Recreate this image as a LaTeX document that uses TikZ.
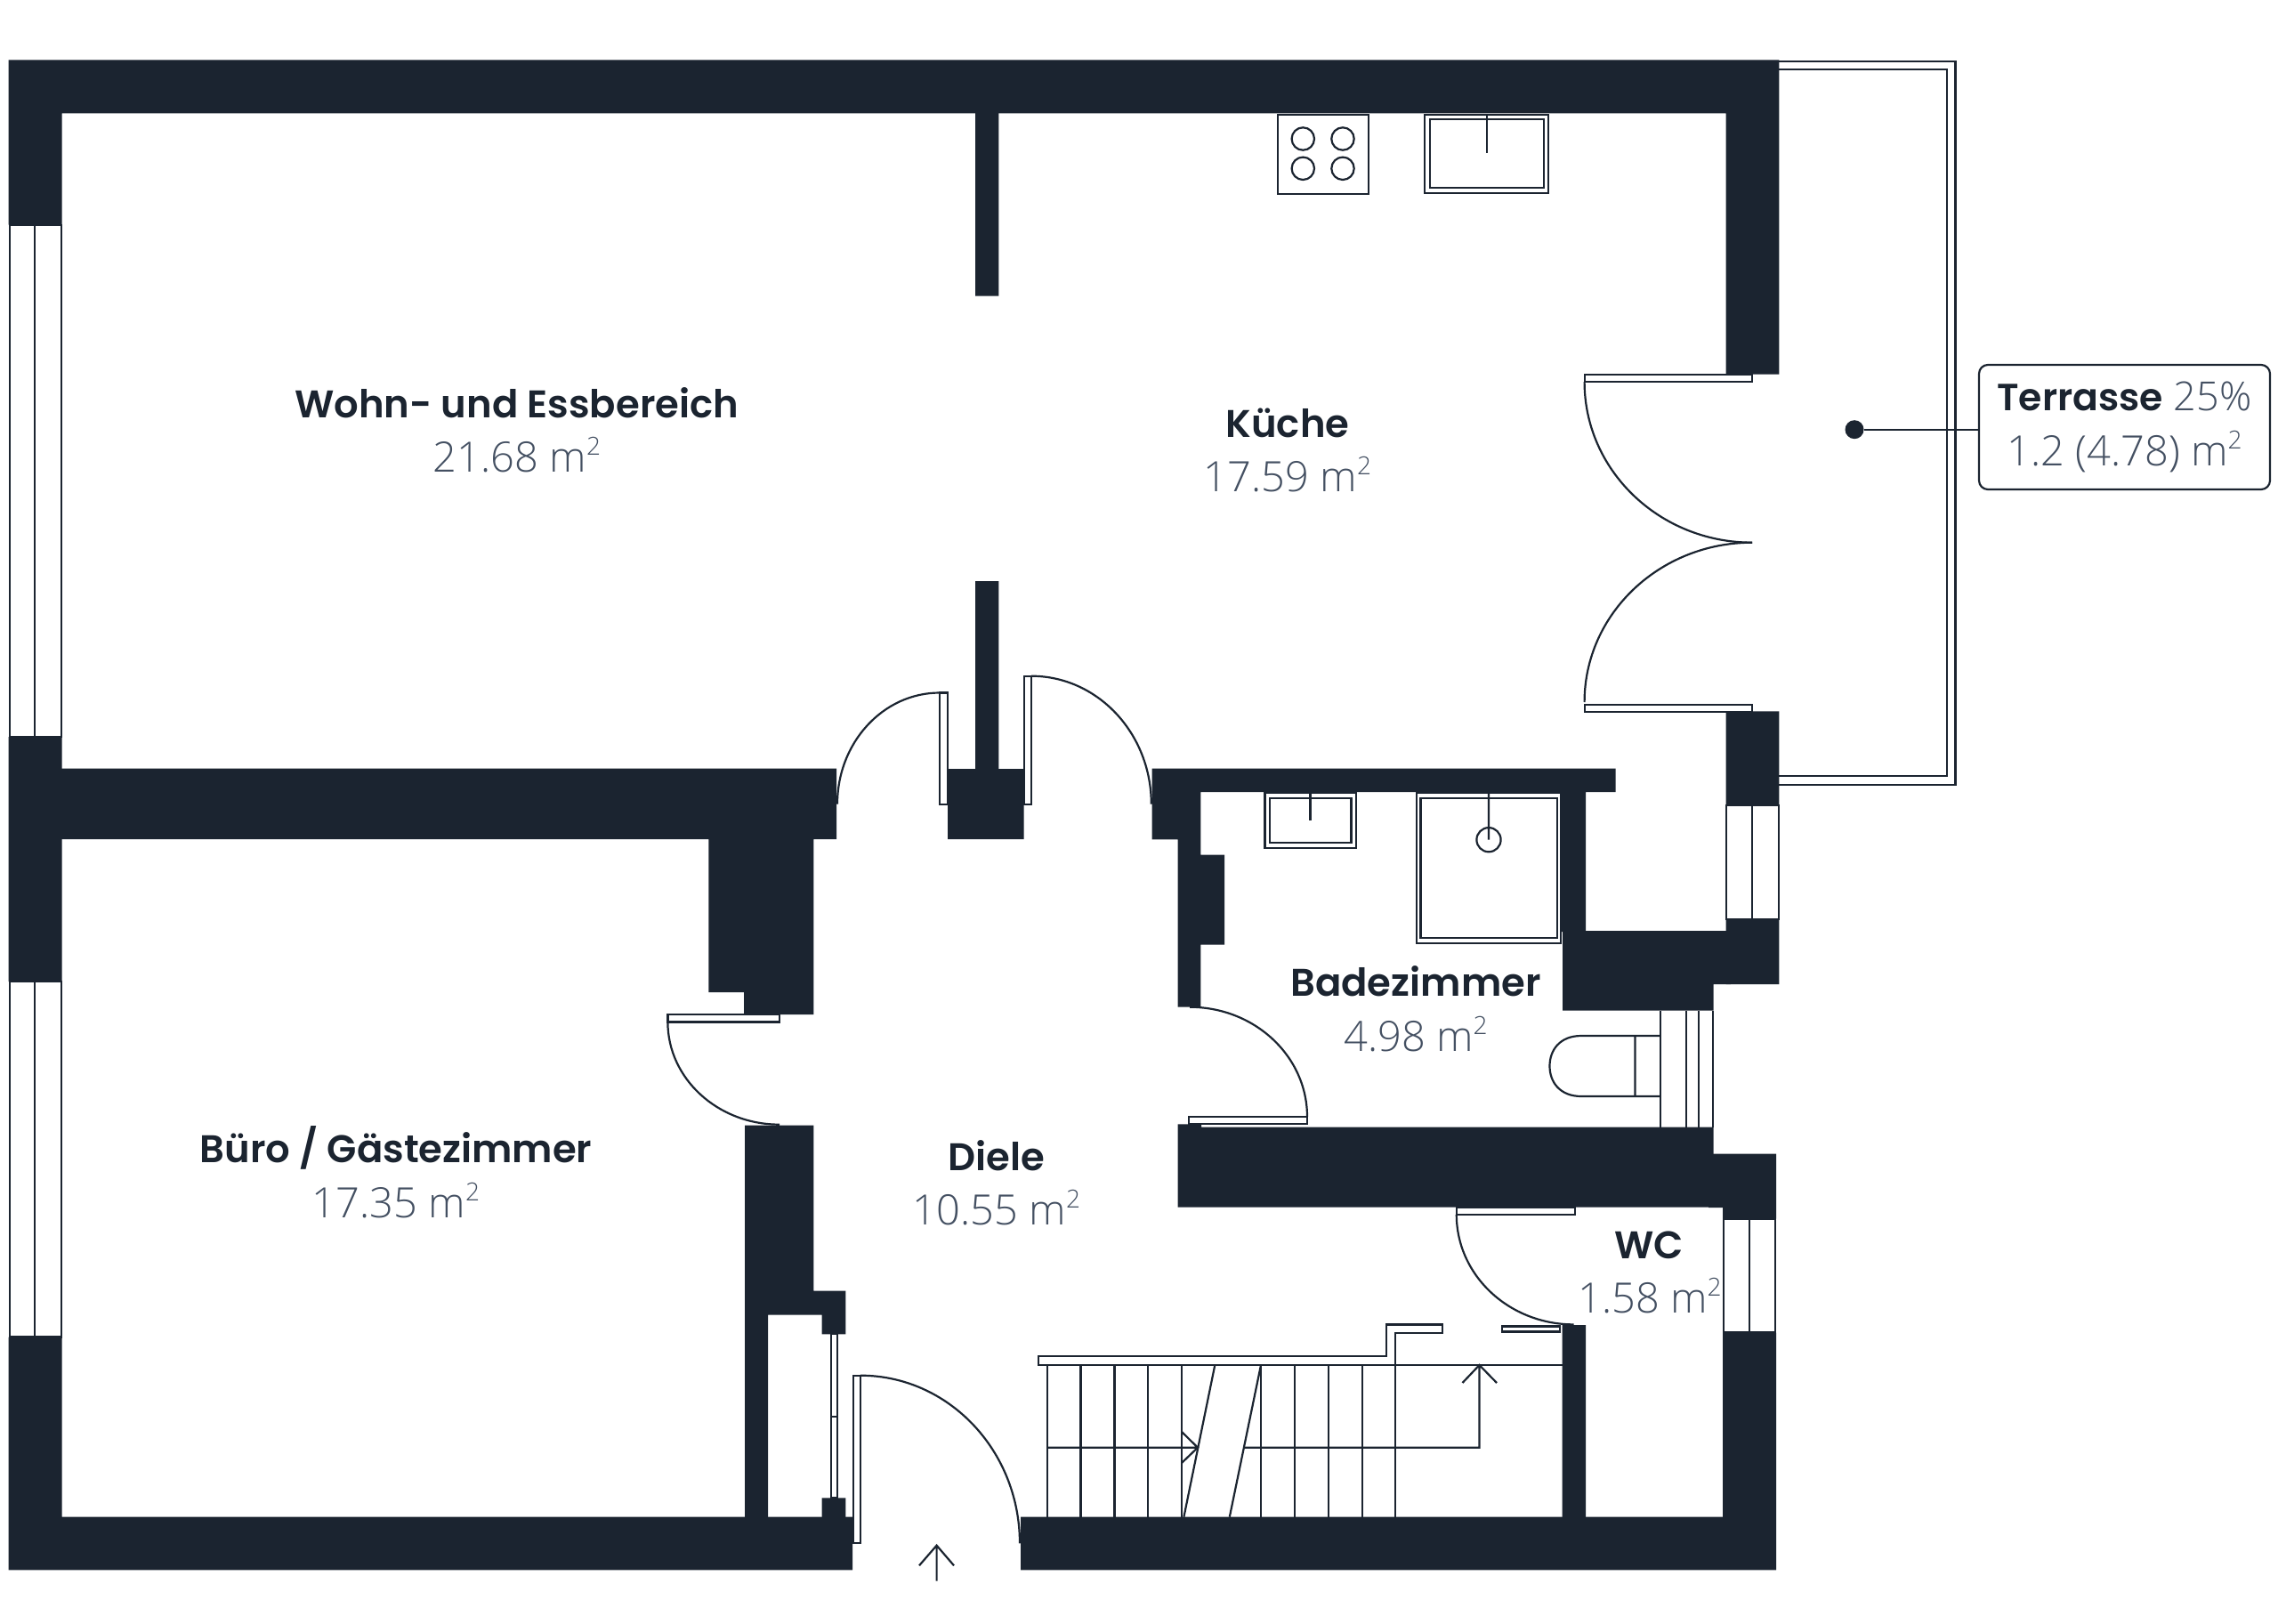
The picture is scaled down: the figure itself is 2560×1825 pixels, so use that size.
\documentclass[tikz,border=0pt]{standalone}
\usepackage{fontspec}
\newfontfamily\namefont{Poppins SemiBold}
\newfontfamily\areafont{Open Sans Light}
\definecolor{wallcol}{HTML}{1B2430}
\definecolor{areacol}{HTML}{445062}
\newcommand{\sqm}{m\raisebox{19pt}{\fontsize{28}{28}\selectfont 2}}

\begin{document}
\begin{tikzpicture}[x=1pt, y=-1pt,
	wall/.style = {fill=wallcol},
	stroke/.style = {draw=wallcol, line width=2.2pt},
	leaf/.style = {stroke, fill=white},
	roomname/.style = {anchor=base, inner sep=0pt, text=wallcol, font=\namefont\fontsize{43.3}{44}\selectfont},
	roomarea/.style = {anchor=base, inner sep=0pt, text=areacol, font=\areafont\fontsize{47}{47}\selectfont},
	callout/.style = {stroke, fill=white, rounded corners=10pt, minimum width=327pt, minimum height=140pt, inner sep=0pt, align=center, font=\fontsize{40}{62}\selectfont},
	marker/.style = {circle, fill=wallcol, minimum size=21pt, inner sep=0pt}]
	\useasboundingbox (0,0) rectangle (2560,1825);

	% outer walls
	\fill[wall] (9.5,67.3) rectangle (1999.3,127.3)
		(1939.5,67.3) rectangle (1999.3,420.7)
		(9.5,67.3) rectangle (69.7,252.7)
		(9.5,828) rectangle (69.7,1103)
		(9.5,1502.5) rectangle (69.7,1764.3)
		(9.5,1704.7) rectangle (958,1764.3)
		(1147,1704.7) rectangle (1996,1764.3)
		(1939.7,799.3) rectangle (1999.3,905)
		(1939.7,1033.3) rectangle (1999.3,1106)
		(1920,1296.6) rectangle (1996,1357)
		(1936,1356) rectangle (1996,1369.5)
		(1936,1497.5) rectangle (1996,1706);
	% inner walls
	\fill[wall] (1096,127) rectangle (1122.3,332.7)
		(1096,653) rectangle (1122.3,866)
		(69,863.5) rectangle (940,943)
		(796.4,942) rectangle (837,1115)
		(836,942) rectangle (914.3,1140)
		(837,1264.5) rectangle (863,1706)
		(862,1264.5) rectangle (914.3,1451.7)
		(862,1450.7) rectangle (950.4,1477.7)
		(923.6,1476.7) rectangle (950.4,1499.3)
		(923.6,1683.3) rectangle (950.4,1706)
		(1065,864) rectangle (1150.5,943)
		(1294.6,863.7) rectangle (1815.6,890)
		(1294.6,889) rectangle (1349.3,943.3)
		(1323.6,942.3) rectangle (1349.3,1131.7)
		(1348.3,960.7) rectangle (1376,1061.7)
		(1754,889) rectangle (1782,1047)
		(1756,1046) rectangle (1945,1106)
		(1756,1105) rectangle (1925.7,1135.7)
		(1323.6,1263.3) rectangle (1350,1356.7)
		(1349,1266.7) rectangle (1925.7,1356.7)
		(1755.5,1489) rectangle (1782,1706);

	% windows
	\draw[leaf] (11,252.7) rectangle (69,828) (39.3,252.7) -- (39.3,828);
	\draw[leaf] (11,1103) rectangle (69,1502.5) (39.3,1103) -- (39.3,1502.5);
	\draw[leaf] (1940,905) rectangle (1999,1033) (1969,905) -- (1969,1033);
	\draw[leaf] (1937,1369.5) rectangle (1995,1497.5) (1966,1369.5) -- (1966,1497.5);
	\draw[leaf] (934,1499.3) rectangle (940.8,1683.3) (934,1591.7) -- (940.8,1591.7);
	\draw[stroke] (1866,1135.7) -- (1866,1266.7) (1894.6,1135.7) -- (1894.6,1266.7)
		(1909,1135.7) -- (1909,1266.7) (1925,1135.7) -- (1925,1266.7);

	% terrace
	\draw[stroke] (1999.3,68.7) -- (2197.5,68.7) -- (2197.5,881.7) -- (1999.3,881.7);
	\draw[stroke] (1999.3,78) -- (2188,78) -- (2188,871.7) -- (1999.3,871.7);

	% doors
	\draw[leaf] (1780.6,420.7) rectangle (1969,429);
	\draw[leaf] (1780.6,791.7) rectangle (1969,800);
	\draw[stroke] (1780.6,429) .. controls (1780.6,528.8) and (1865,609.7) .. (1969,609.7);
	\draw[stroke] (1969,609.7) .. controls (1865,609.7) and (1780.6,690) .. (1780.6,789);
	\draw[leaf] (1056,778.5) rectangle (1065,903.6);
	\draw[stroke] (941,903.6) .. controls (941,834.5) and (992.5,778.5) .. (1056,778.5);
	\draw[leaf] (1151,759.7) rectangle (1159,903.6);
	\draw[stroke] (1159,759.7) .. controls (1233.4,759.7) and (1293.8,824.1) .. (1293.8,903.6);
	\draw[leaf] (750.4,1140) rectangle (876,1148.5);
	\draw[stroke] (750.4,1148.5) .. controls (750.4,1212.1) and (806.6,1263.7) .. (876,1263.7);
	\draw[leaf] (1336,1255) rectangle (1469,1263);
	\draw[stroke] (1337,1131.7) .. controls (1409.9,1131.7) and (1469,1186.9) .. (1469,1255);
	\draw[leaf] (1636.8,1357) rectangle (1769.6,1364.8);
	\draw[stroke] (1636.8,1364.8) .. controls (1636.8,1433.1) and (1695.8,1488.4) .. (1768.6,1488.4);
	\draw[leaf] (1687.7,1490.5) rectangle (1753,1496.4);
	\draw[leaf] (958.8,1545.7) rectangle (966.9,1734.3);
	\draw[stroke] (966.9,1545.7) .. controls (1065.8,1545.7) and (1146,1630.1) .. (1146,1734.3);
	\draw[stroke] (1052.6,1776.7) -- (1052.6,1736.7) (1033,1759.3) -- (1052.6,1736.7) -- (1072,1759.3);

	% stairs
	\draw[leaf] (1166.6,1524.3) -- (1558,1524.3) -- (1558,1488.4) -- (1620.8,1488.4) -- (1620.8,1498) -- (1568,1498) -- (1568,1534) -- (1166.6,1534) -- cycle;
	\draw[stroke] (1177,1534) -- (1755.5,1534);
	\foreach \x in {1177,1214.5,1252.4,1290,1328,1417,1455,1493,1530.6,1568}
		\draw[stroke] (\x,1534) -- (\x,1704.7);
	\draw[stroke] (1365.3,1534) -- (1330.4,1704.7) (1417,1534) -- (1381.8,1704.7);
	\draw[stroke] (1177,1626.7) -- (1346,1626.7) (1328,1609) -- (1346,1626.7) -- (1328,1644);
	\draw[stroke] (1399,1626.7) -- (1662.5,1626.7) -- (1662.5,1534) (1643.5,1554) -- (1662.5,1534) -- (1682,1554);

	% kitchen and bathroom fittings
	\draw[leaf] (1436,129) rectangle (1538,217.7);
	\foreach \x in {1464.3,1509}
		\foreach \y in {156,189.3}
			\draw[stroke] (\x,\y) circle (12.7);
	\draw[leaf] (1601,129) rectangle (1740,216.7) (1607,134) rectangle (1735,211) (1671,129) -- (1671,172);
	\draw[leaf] (1421.5,890.7) rectangle (1523.8,953) (1427,896.7) rectangle (1518.5,946.7) (1472.4,890) -- (1472.4,921.7);
	\draw[leaf] (1591.7,890.7) rectangle (1754,1060) (1596.5,896.7) rectangle (1750,1054);
	\draw[stroke] (1673,890) -- (1673,943.7) (1673,943.7) circle (13.6);
	\draw[stroke] (1866,1164) -- (1777,1164) .. controls (1753,1164) and (1741.5,1180) .. (1741.5,1198) .. controls (1741.5,1216) and (1753,1232) .. (1777,1232) -- (1866,1232) (1837.4,1164) -- (1837.4,1232);

	% room labels
	\node[roomname] (wohn) at (580.5,469) {Wohn- und Essbereich};
	\node[roomarea] (wohnarea) at (581,530) {21.68 \sqm};
	\node[roomname] (kueche) at (1447,491) {Küche};
	\node[roomarea] (kuechearea) at (1447,552) {17.59 \sqm};
	\node[roomname] (bad) at (1591,1119) {Badezimmer};
	\node[roomarea] (badarea) at (1591,1181) {4.98 \sqm};
	\node[roomname] (buero) at (445,1306.7) {Büro / Gästezimmer};
	\node[roomarea] (bueroarea) at (445,1368) {17.35 \sqm};
	\node[roomname] (diele) at (1120,1315) {Diele};
	\node[roomarea] (dielearea) at (1120,1376) {10.55 \sqm};
	\node[roomname] (wc) at (1853,1414) {WC};
	\node[roomarea] (wcarea) at (1854,1475) {1.58 \sqm};

	\node[marker] (terrassedot) at (2084,482.7) {};
	\node[callout] (terrasse) at (2387.5,480) {{\namefont\fontsize{42.5}{62}\selectfont\color{wallcol}Terrasse} {\areafont\fontsize{45}{62}\selectfont\color{areacol}25\%}\\{\areafont\fontsize{47}{62}\selectfont\color{areacol}1.2 (4.78) \sqm}};
	\draw[stroke] (terrassedot) -- (terrasse.west |- terrassedot);
\end{tikzpicture}
\end{document}
